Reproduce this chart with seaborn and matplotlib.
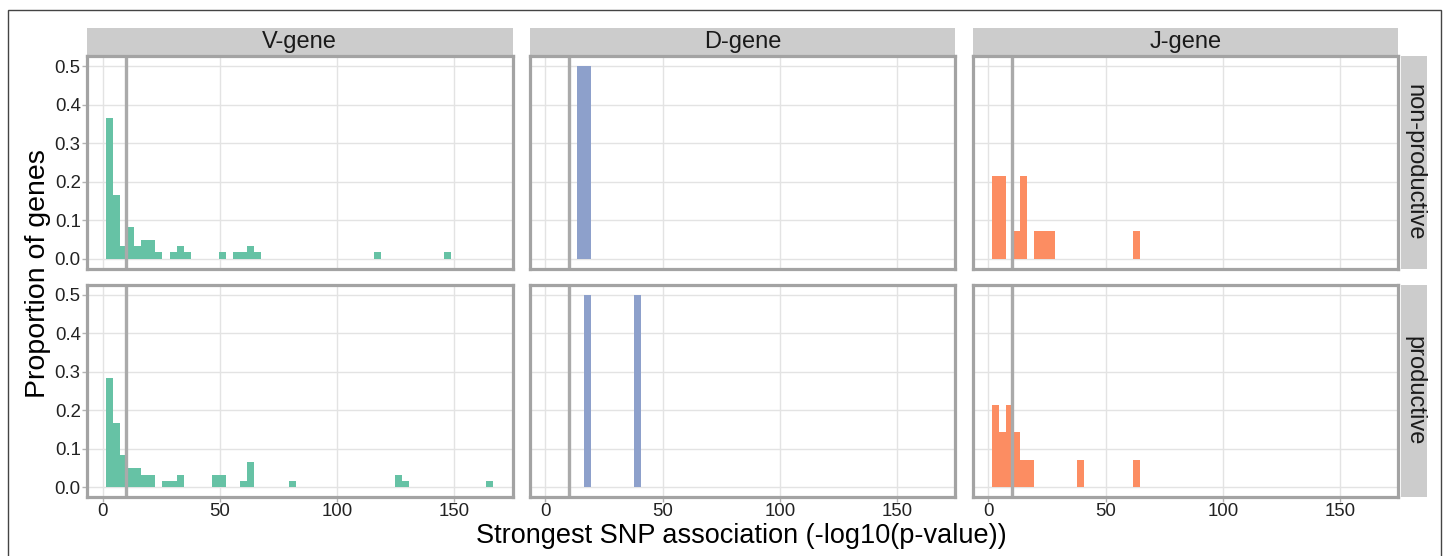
import matplotlib
matplotlib.use("Agg")
import matplotlib.pyplot as plt
from matplotlib.patches import Rectangle
import numpy as np
import pandas as pd
import seaborn as sns

# strongest SNP association per gene, binned (-log10 p), and number of genes in each bin
v_nonprod_x = [3, 6, 9, 12, 15, 18, 21, 24, 30, 33, 36, 51, 57, 60, 63, 66, 117, 147]
v_nonprod_n = [22, 10, 2, 5, 2, 3, 3, 1, 1, 2, 1, 1, 1, 1, 2, 1, 1, 1]
v_prod_x = [3, 6, 9, 12, 15, 18, 21, 27, 30, 33, 48, 51, 60, 63, 81, 126, 129, 165]
v_prod_n = [17, 10, 5, 3, 3, 2, 2, 1, 1, 2, 2, 2, 1, 4, 1, 2, 1, 1]
d_nonprod_x = [15, 18]
d_nonprod_n = [1, 1]
d_prod_x = [18, 39]
d_prod_n = [1, 1]
j_nonprod_x = [3, 6, 12, 15, 21, 24, 27, 63]
j_nonprod_n = [3, 3, 1, 3, 1, 1, 1, 1]
j_prod_x = [3, 6, 9, 12, 15, 18, 39, 63]
j_prod_n = [3, 2, 3, 2, 1, 1, 1, 1]

genes = ["V-gene", "D-gene", "J-gene"]
rows = ["non-productive", "productive"]
colors = ["#66c2a5", "#8da0cb", "#fc8d62"]
threshold = 10

panels = {
    ("non-productive", "V-gene"): (v_nonprod_x, v_nonprod_n),
    ("productive", "V-gene"): (v_prod_x, v_prod_n),
    ("non-productive", "D-gene"): (d_nonprod_x, d_nonprod_n),
    ("productive", "D-gene"): (d_prod_x, d_prod_n),
    ("non-productive", "J-gene"): (j_nonprod_x, j_nonprod_n),
    ("productive", "J-gene"): (j_prod_x, j_prod_n),
}

sns.set_theme(style="white")
plt.rcParams["font.family"] = ["Liberation Sans", "DejaVu Sans"]

W, H = 1448, 556
fig = plt.figure(figsize=(W / 100, H / 100), dpi=100)

edges = list(np.arange(1.56, 170, 3))
col_left = [86.8, 529.7, 972.7]
col_w = 425.7
row_top = [56.5, 285.0]
row_h = 212.0
strip_h = 28.0
border = "#a3a3a3"

for r, row in enumerate(rows):
    for c, gene in enumerate(genes):
        l = col_left[c] / W
        b = 1 - (row_top[r] + row_h) / H
        ax = fig.add_axes([l, b, col_w / W, row_h / H])
        xs, ns = panels[(row, gene)]
        df = pd.DataFrame({"score": xs, "genes": ns})
        sns.histplot(data=df, x="score", weights="genes", bins=edges, stat="probability",
                     color=colors[c], alpha=1, linewidth=0, ax=ax, zorder=2)
        ax.axvline(threshold, color="#aaaaaa", lw=2.4, zorder=3)
        ax.set_xlim(-6.7, 174.8)
        ax.set_ylim(-0.025, 0.525)
        ax.set_xticks([0, 50, 100, 150])
        ax.set_yticks([0, 0.1, 0.2, 0.3, 0.4, 0.5])
        ax.grid(True, color="#e3e3e3", lw=1.0, zorder=0)
        ax.set_axisbelow(True)
        ax.set_xlabel("")
        ax.set_ylabel("")
        for sp in ax.spines.values():
            sp.set_color(border)
            sp.set_linewidth(2.3)
            sp.set_zorder(4)
        ax.tick_params(length=3.6, width=1, color="#b3b3b3", labelsize=13.4,
                       labelcolor="#222222", pad=0.8,
                       bottom=(r == 1), labelbottom=(r == 1),
                       left=(c == 0), labelleft=(c == 0))
        if c == 0:
            ax.set_yticklabels(["0.0", "0.1", "0.2", "0.3", "0.4", "0.5"])
        if r == 0:
            ax.add_patch(Rectangle((0, 1), 1, strip_h / row_h, transform=ax.transAxes,
                                   facecolor="#cccccc", edgecolor="none", clip_on=False))
            ax.text(0.5, 1 + strip_h / row_h / 2, gene, transform=ax.transAxes,
                    ha="center", va="center", fontsize=17, color="#1a1a1a")
        if c == 2:
            sx = (col_w + 2.5) / col_w
            sw = 26.5 / col_w
            ax.add_patch(Rectangle((sx, 0), sw, 1, transform=ax.transAxes,
                                   facecolor="#cccccc", edgecolor="none", clip_on=False))
            ax.text(sx + sw / 2, 0.5, row, transform=ax.transAxes, rotation=-90,
                    ha="center", va="center", fontsize=17, color="#1a1a1a")

fig.text(38 / W, 1 - 274 / H, "Proportion of genes", rotation=90,
         ha="center", va="center", fontsize=20.5, color="#000000")
fig.text(741 / W, 1 - 536 / H, "Strongest SNP association (-log10(p-value))",
         ha="center", va="center", fontsize=19.5, color="#000000")

# outer frame of the figure
fig.patches.append(Rectangle((8.3 / W, -0.05), (1441 - 8.3) / W, 1.05 - 10.5 / H,
                             transform=fig.transFigure, fill=False,
                             edgecolor="#444444", lw=1.0))

fig.savefig("out.png", dpi=100)
